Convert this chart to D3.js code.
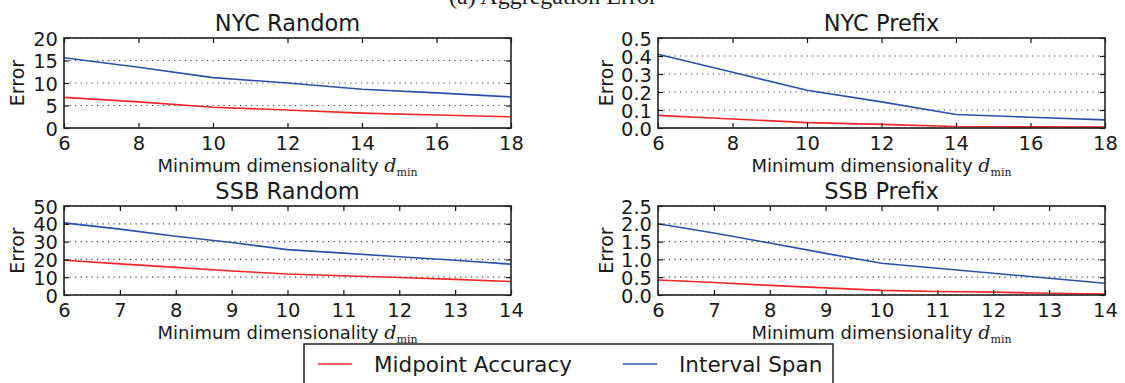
<!DOCTYPE html>
<html><head><meta charset="utf-8">
<script src="https://cdn.jsdelivr.net/npm/d3@7"></script>
<style>
html,body{margin:0;padding:0;background:#fff;}
svg{display:block;}
text{font-family:"DejaVu Sans",sans-serif;fill:#1a1a1a;}
</style></head>
<body>
<svg id="chart" width="1125" height="383"></svg>
<script>
// ---- data ----
const nycX = [6, 8, 10, 12, 14, 16, 18];
const ssbX = [6, 7, 8, 9, 10, 11, 12, 13, 14];

const nycRandomMid = [6.8, 5.8, 4.6, 4.0, 3.3, 2.9, 2.5];
const nycRandomSpan = [15.6, 13.5, 11.2, 10.0, 8.6, 7.8, 6.9];
const nycPrefixMid = [0.07, 0.05, 0.03, 0.02, 0.008, 0.006, 0.005];
const nycPrefixSpan = [0.41, 0.31, 0.21, 0.145, 0.075, 0.06, 0.045];
const ssbRandomMid = [19.5, 17.5, 15.5, 13.5, 11.8, 10.8, 9.8, 8.8, 7.6];
const ssbRandomSpan = [40.5, 37.0, 33.0, 29.5, 25.5, 23.5, 21.5, 19.5, 17.3];
const ssbPrefixMid = [0.42, 0.35, 0.27, 0.20, 0.13, 0.10, 0.08, 0.05, 0.03];
const ssbPrefixSpan = [2.0, 1.74, 1.46, 1.17, 0.89, 0.75, 0.61, 0.47, 0.33];

const nycXTicks = [6, 8, 10, 12, 14, 16, 18];
const ssbXTicks = [6, 7, 8, 9, 10, 11, 12, 13, 14];
const nycRandomYTicks = [0, 5, 10, 15, 20];
const nycPrefixYTicks = [0.0, 0.1, 0.2, 0.3, 0.4, 0.5];
const ssbRandomYTicks = [0, 10, 20, 30, 40, 50];
const ssbPrefixYTicks = [0.0, 0.5, 1.0, 1.5, 2.0, 2.5];

const titles = ["NYC Random", "NYC Prefix", "SSB Random", "SSB Prefix"];
const seriesNames = ["Midpoint Accuracy", "Interval Span"];
const caption = "(a) Aggregation Error";

// ---- layout ----
const RED = "#f0262a", BLUE = "#2d4fa6";
const boxes = [
  {l: 64, r: 511, t: 38, b: 128},
  {l: 658, r: 1105, t: 38, b: 128},
  {l: 64, r: 511, t: 206, b: 295},
  {l: 658, r: 1105, t: 206, b: 295}
];
const panels = [
  {x: nycX, mid: nycRandomMid, span: nycRandomSpan, xt: nycXTicks, yt: nycRandomYTicks, fmt: d3.format("d")},
  {x: nycX, mid: nycPrefixMid, span: nycPrefixSpan, xt: nycXTicks, yt: nycPrefixYTicks, fmt: d3.format(".1f")},
  {x: ssbX, mid: ssbRandomMid, span: ssbRandomSpan, xt: ssbXTicks, yt: ssbRandomYTicks, fmt: d3.format("d")},
  {x: ssbX, mid: ssbPrefixMid, span: ssbPrefixSpan, xt: ssbXTicks, yt: ssbPrefixYTicks, fmt: d3.format(".1f")}
];

const svg = d3.select("#chart");

svg.append("text").attr("x", 553).attr("y", 4)
  .attr("text-anchor", "middle")
  .style("font-family", "'Liberation Serif', serif").style("font-size", "24px")
  .text(caption);

panels.forEach((p, i) => {
  const bx = boxes[i];
  const x = d3.scaleLinear().domain(d3.extent(p.xt)).range([bx.l, bx.r]);
  const y = d3.scaleLinear().domain(d3.extent(p.yt)).range([bx.b, bx.t]);
  const g = svg.append("g");

  // grid
  g.append("g").selectAll("line").data(p.yt).join("line")
    .attr("x1", bx.l).attr("x2", bx.r)
    .attr("y1", d => y(d)).attr("y2", d => y(d))
    .attr("stroke", "#444").attr("stroke-width", 1.2)
    .attr("stroke-dasharray", "1.2,4.3");

  // lines
  const line = d3.line().x((d, j) => x(p.x[j])).y(d => y(d));
  g.append("path").datum(p.span).attr("d", line)
    .attr("fill", "none").attr("stroke", BLUE).attr("stroke-width", 1.6);
  g.append("path").datum(p.mid).attr("d", line)
    .attr("fill", "none").attr("stroke", RED).attr("stroke-width", 1.6);

  // axes (inward ticks)
  const fs = "19.5px";
  const ax = g.append("g").attr("transform", `translate(0,${bx.b})`)
    .call(d3.axisBottom(x).tickValues(p.xt).tickSizeInner(-5).tickSizeOuter(0).tickPadding(8).tickFormat(d3.format("d")));
  const axT = g.append("g").attr("transform", `translate(0,${bx.t})`)
    .call(d3.axisTop(x).tickValues(p.xt).tickSizeInner(-5).tickSizeOuter(0).tickFormat(""));
  const ay = g.append("g").attr("transform", `translate(${bx.l},0)`)
    .call(d3.axisLeft(y).tickValues(p.yt).tickSizeInner(-5).tickSizeOuter(0).tickPadding(6).tickFormat(p.fmt));
  const ayR = g.append("g").attr("transform", `translate(${bx.r},0)`)
    .call(d3.axisRight(y).tickValues(p.yt).tickSizeInner(-5).tickSizeOuter(0).tickFormat(""));
  [ax, axT, ay, ayR].forEach(a => {
    a.select(".domain").remove();
    a.selectAll(".tick line").attr("stroke", "#111").attr("stroke-width", 1.2);
    a.selectAll("text").style("font-size", fs).style("font-family", "'DejaVu Sans',sans-serif").attr("fill", "#1a1a1a");
  });
  ax.selectAll("text").attr("dy", "0.71em");
  ay.selectAll("text").attr("dy", "0.36em");

  // frame
  g.append("rect").attr("x", bx.l).attr("y", bx.t)
    .attr("width", bx.r - bx.l).attr("height", bx.b - bx.t)
    .attr("fill", "none").attr("stroke", "#222").attr("stroke-width", 1.6);

  // title
  g.append("text").attr("x", (bx.l + bx.r) / 2).attr("y", bx.t - 7)
    .attr("text-anchor", "middle").style("font-size", "22.5px").text(titles[i]);

  // y label
  const ylx = i % 2 === 0 ? 17 : 606;
  g.append("text").attr("transform", `translate(${ylx},${(bx.t + bx.b) / 2}) rotate(-90)`)
    .attr("text-anchor", "middle").attr("dy", "0.35em").style("font-size", "19px").text("Error");

  // x label
  const xl = g.append("text").attr("x", (bx.l + bx.r) / 2).attr("y", bx.b + 44)
    .attr("text-anchor", "middle").style("font-size", "18px");
  xl.append("tspan").text("Minimum dimensionality ");
  xl.append("tspan").style("font-family", "'DejaVu Serif',serif").style("font-style", "italic").style("font-size", "19px").text("d");
  xl.append("tspan").attr("dy", 4).style("font-family", "'DejaVu Serif',serif").style("font-size", "11px").text("min");
});

// legend
const lg = svg.append("g");
lg.append("rect").attr("x", 304).attr("y", 344).attr("width", 529).attr("height", 50)
  .attr("fill", "#fff").attr("stroke", "#222").attr("stroke-width", 1.5);
const legendItems = [
  {name: seriesNames[0], color: RED, x0: 318},
  {name: seriesNames[1], color: BLUE, x0: 623}
];
legendItems.forEach(it => {
  lg.append("line").attr("x1", it.x0).attr("x2", it.x0 + 34).attr("y1", 364).attr("y2", 364)
    .attr("stroke", it.color).attr("stroke-width", 1.5);
  lg.append("text").attr("x", it.x0 + 56).attr("y", 372).style("font-size", "21.5px").text(it.name);
});
</script>
</body></html>
